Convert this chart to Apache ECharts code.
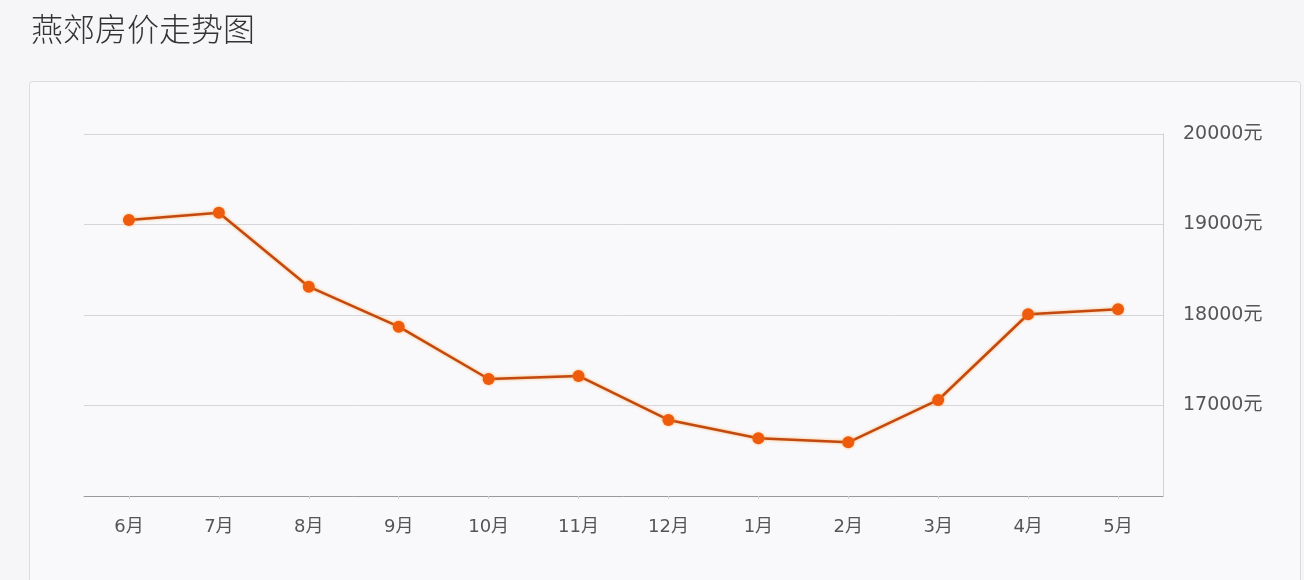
<!DOCTYPE html>
<html><head><meta charset="utf-8">
<script src="https://cdn.jsdelivr.net/npm/echarts@6/dist/echarts.min.js"></script>
<style>html,body{margin:0;padding:0;background:#f6f6f8;}#c{width:1304px;height:580px;}</style>
</head><body><div id="c"></div>
<script>
const titleText = '燕郊房价走势图';
const months = ['6月','7月','8月','9月','10月','11月','12月','1月','2月','3月','4月','5月'];
const prices = [19050, 19130, 18313, 17871, 17293, 17326, 16840, 16638, 16593, 17061, 18008, 18063];
const yMin = 16000, yMax = 20000, yStep = 1000;
const unit = '元';

const labelFont = '"DejaVu Sans", "Noto Sans CJK SC", sans-serif';
const chart = echarts.init(document.getElementById('c'));
chart.setOption({
  backgroundColor: '#f6f6f8',
  animation: false,
  title: {
    text: titleText, left: 26, top: 8,
    textStyle: {fontFamily: '"Noto Sans CJK SC", sans-serif', fontSize: 32, fontWeight: 300, color: '#333'}
  },
  graphic: [{
    type: 'rect', left: 29, top: 81, z: -10,
    shape: {width: 1271, height: 520, r: 3},
    style: {fill: '#f9f9fb', stroke: '#dcdcdf', lineWidth: 1}
  }],
  grid: {left: 84, right: 141, top: 134, bottom: 84},
  xAxis: {
    type: 'category', data: months, boundaryGap: true,
    axisLine: {show: true, lineStyle: {color: '#9a9a9a', width: 1}},
    axisTick: {show: true, alignWithLabel: true, length: 3, lineStyle: {color: '#cfcfcf'}},
    axisLabel: {color: '#555', fontSize: 18, margin: 22, fontFamily: labelFont},
    splitLine: {show: false}
  },
  yAxis: {
    type: 'value', position: 'right', min: yMin, max: yMax, interval: yStep,
    axisLine: {show: true, lineStyle: {color: '#d0d0d4'}},
    axisTick: {show: false},
    axisLabel: {
      color: '#555', fontSize: 19, margin: 20, fontFamily: labelFont,
      formatter: v => v === yMin ? '' : v + unit
    },
    splitLine: {show: true, lineStyle: {color: '#d6d6da', width: 1}}
  },
  series: [{
    type: 'line', data: prices,
    symbol: 'circle', symbolSize: 12,
    lineStyle: {color: '#c24a10', width: 2.5, shadowColor: 'rgba(255,150,40,0.7)', shadowBlur: 3},
    itemStyle: {color: '#ef5b0c', shadowColor: 'rgba(255,150,40,0.6)', shadowBlur: 3}
  }]
});
</script></body></html>
